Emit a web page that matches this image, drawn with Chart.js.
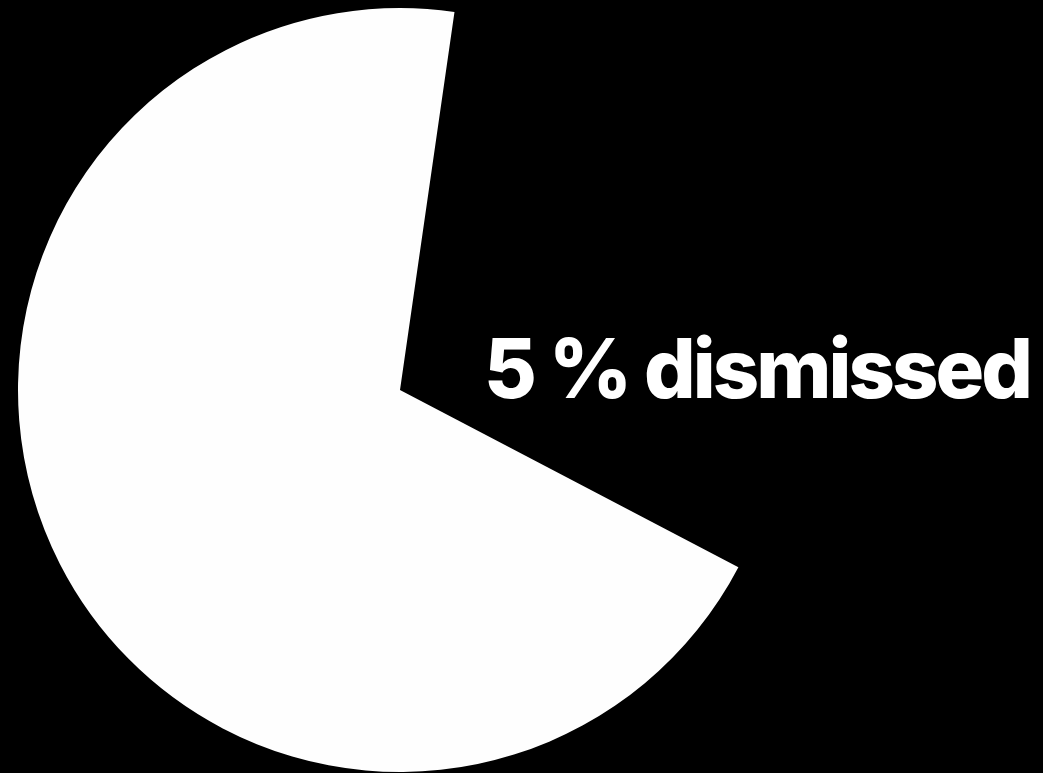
<!DOCTYPE html>
<html>
<head>
<meta charset="utf-8">
<script src="https://cdn.jsdelivr.net/npm/chart.js@4"></script>
<style>
  html, body { margin: 0; padding: 0; background: #000; }
  #wrap { width: 1043px; height: 773px; }
</style>
</head>
<body>
<div id="wrap"><canvas id="pie"></canvas></div>
<script>
// slices, clockwise from the top edge of the gap
const labels = ['dismissed', 'other'];
const values = [30.4, 69.6];
const colors = ['rgba(0,0,0,0)', '#fefefe'];
const labelText = '5 % dismissed';

const sliceLabel = {
    id: 'sliceLabel',
    afterDraw(chart) {
        const ctx = chart.ctx;
        ctx.save();
        ctx.fillStyle = '#ffffff';
        ctx.font = '800 82px Inter, "Open Sans", sans-serif';
        ctx.letterSpacing = '-3px';
        ctx.textAlign = 'left';
        ctx.textBaseline = 'alphabetic';
        ctx.fillText(labelText, 484, 398, 546);
        ctx.restore();
    }
};

new Chart(document.getElementById('pie'), {
    type: 'pie',
    data: {
        labels: labels,
        datasets: [{
            data: values,
            backgroundColor: colors,
            borderWidth: 0
        }]
    },
    options: {
        responsive: true,
        maintainAspectRatio: false,
        animation: false,
        rotation: 8.2,
        layout: {
            padding: { left: 18, right: 261, top: 8, bottom: 1 }
        },
        plugins: {
            legend: { display: false },
            tooltip: { enabled: false }
        }
    },
    plugins: [sliceLabel]
});
</script>
</body>
</html>
